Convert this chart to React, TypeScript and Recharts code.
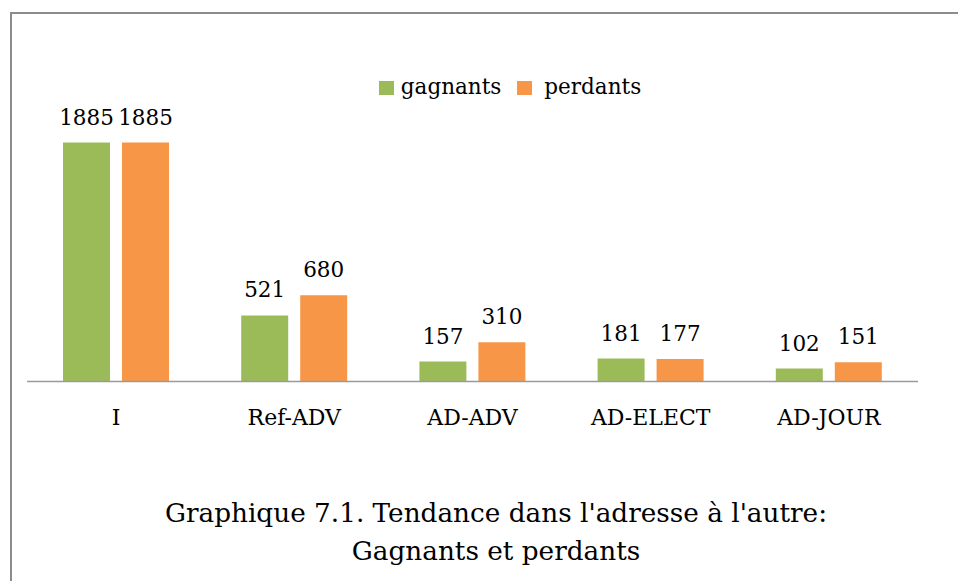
import { FC } from "react";
import { Bar, BarChart, LabelList, Legend, XAxis, YAxis } from "recharts";

const categories = ["I", "Ref-ADV", "AD-ADV", "AD-ELECT", "AD-JOUR"];
const gagnants = [1885, 521, 157, 181, 102];
const perdants = [1885, 680, 310, 177, 151];
const titleLines = [
    "Graphique 7.1. Tendance dans l'adresse à l'autre:",
    "Gagnants et perdants",
];

const chartData = categories.map((name, i) => ({
    name,
    gagnants: gagnants[i],
    perdants: perdants[i],
}));

const FONT = "'DejaVu Serif', serif";
const GREEN = "#9BBB59";
const ORANGE = "#F79646";

const LegendContent: FC = () => (
    <div
        style={{
            display: "flex",
            justifyContent: "center",
            alignItems: "center",
            paddingLeft: 62,
            fontFamily: FONT,
            fontSize: 21.5,
            color: "#000",
            lineHeight: "28px",
        }}
    >
        <span style={{ width: 15, height: 14, background: GREEN, marginRight: 7, marginTop: 2 }} />
        <span style={{ marginRight: 16 }}>gagnants</span>
        <span style={{ width: 15, height: 14, background: ORANGE, marginRight: 12, marginTop: 2 }} />
        <span>perdants</span>
    </div>
);

const App: FC = () => {
    return (
        <div
            style={{
                position: "absolute",
                left: 0,
                top: 0,
                width: 958,
                height: 581,
                overflow: "hidden",
                background: "#fff",
            }}
        >
            <div
                style={{
                    position: "absolute",
                    left: 10,
                    top: 12,
                    width: 1200,
                    height: 800,
                    borderLeft: "2px solid #8c8c8c",
                    borderTop: "2px solid #8c8c8c",
                }}
            />
            <BarChart
                width={958}
                height={581}
                data={chartData}
                margin={{ top: 128, right: 40, bottom: 139.5, left: 27 }}
                barSize={47}
                barGap={12}
            >
                <XAxis
                    dataKey="name"
                    height={60}
                    tickLine={false}
                    tickSize={0}
                    tickMargin={28}
                    axisLine={{ stroke: "#9a9a9a", strokeWidth: 1.5 }}
                    tick={{ fontFamily: FONT, fontSize: 22, fill: "#000" }}
                    interval={0}
                />
                <YAxis hide domain={[0, 2000]} />
                <Legend
                    layout="horizontal"
                    align="center"
                    verticalAlign="middle"
                    wrapperStyle={{ top: 73, left: 0, width: 958 }}
                    content={() => <LegendContent />}
                />
                <Bar dataKey="gagnants" fill={GREEN} isAnimationActive={false}>
                    <LabelList
                        dataKey="gagnants"
                        position="top"
                        offset={18}
                        style={{ fontFamily: FONT, fontSize: 21.5, fill: "#000" }}
                    />
                </Bar>
                <Bar dataKey="perdants" fill={ORANGE} isAnimationActive={false}>
                    <LabelList
                        dataKey="perdants"
                        position="top"
                        offset={18}
                        style={{ fontFamily: FONT, fontSize: 21.5, fill: "#000" }}
                    />
                </Bar>
            </BarChart>
            <svg
                width={958}
                height={581}
                style={{ position: "absolute", left: 0, top: 0, pointerEvents: "none" }}
            >
                {titleLines.map((line, i) => (
                    <text
                        key={i}
                        x={496}
                        y={522 + i * 37.5}
                        textAnchor="middle"
                        fontFamily={FONT}
                        fontSize={26.3}
                        fill="#000"
                    >
                        {line}
                    </text>
                ))}
            </svg>
        </div>
    );
};

export default App;
